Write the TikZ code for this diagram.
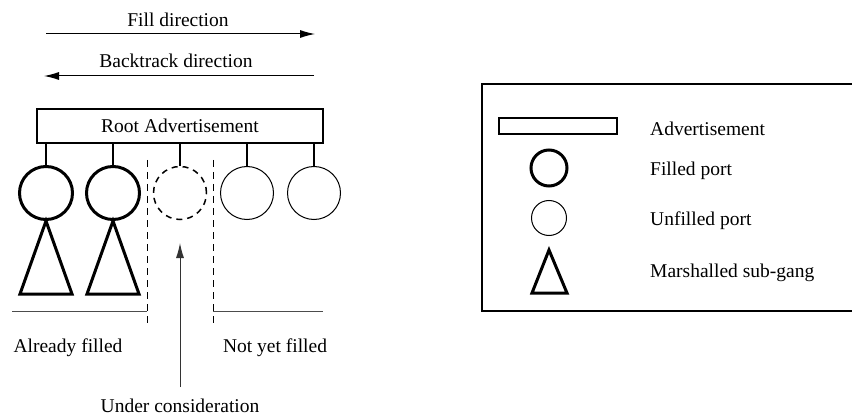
\documentclass[tikz,border=0pt]{standalone}
\usepackage{fontspec}
\setmainfont{Liberation Serif}
\usetikzlibrary{arrows.meta}
\begin{document}
\begin{tikzpicture}[x=1pt,y=-1pt,
  every node/.style={font=\fontsize{19.5}{23}\selectfont, inner sep=0pt},
  lbl/.style={anchor=center},
  port/.style={circle, draw, minimum size=53pt, inner sep=0pt},
  filledport/.style={port, line width=3pt},
  openport/.style={port, line width=1pt},
  curport/.style={port, line width=1.5pt, dash pattern=on 6pt off 5pt},
  subgang/.style={line width=3pt, line join=miter},
  stub/.style={line width=1.5pt},
  divider/.style={line width=1pt, dash pattern=on 7pt off 5pt},
  dirarrow/.style={line width=1pt, -{Latex[length=15pt,width=8pt]}},
  zone/.style={line width=1pt, black!70}
]
\useasboundingbox (0,0) rectangle (852,417);
\clip (0,0) rectangle (852,417);

% direction arrows
\node[lbl] (filltxt) at (178,20) {Fill direction};
\coordinate (fa) at (46,34);
\coordinate (fb) at (315,34);
\draw[dirarrow] (fa) -- (fb);
\node[lbl] (backtxt) at (176,61) {Backtrack direction};
\coordinate (ba) at (314,76);
\coordinate (bb) at (44,76);
\draw[dirarrow] (ba) -- (bb);

% root advertisement
\node[draw, line width=1.5pt, minimum width=286pt, minimum height=34pt] (root) at (180,126) {Root Advertisement};

% ports
\node[filledport] (p1) at (46,193) {};
\node[filledport] (p2) at (113,193) {};
\node[curport] (p3) at (180,193) {};
\node[openport] (p4) at (247,193) {};
\node[openport] (p5) at (314,193) {};
\foreach \p in {p1,p2,p3,p4,p5} \draw[stub] (root.south -| \p) -- (\p.north);

% sub-gangs
\draw[subgang] (p1.south) -- (20,294) -- (72,294) -- cycle;
\draw[subgang] (p2.south) -- (87,294) -- (139,294) -- cycle;

% dividers
\coordinate (d1t) at (147,160);
\coordinate (d1b) at (147,327);
\coordinate (d2t) at (213,160);
\coordinate (d2b) at (213,327);
\draw[divider] (d1t) -- (d1b);
\draw[divider] (d2t) -- (d2b);

% zone lines
\coordinate (zl) at (12,311);
\coordinate (zr) at (323,311);
\draw[zone] (zl) -- (d1b |- zl);
\draw[zone] (d2b |- zr) -- (zr);
\node[lbl] (already) at (68,348) {Already filled};
\node[lbl] (notyet) at (275,348) {Not yet filled};

% under consideration
\node[lbl] (under) at (180,406) {Under consideration};
\coordinate (ua) at (180,387);
\draw[line width=1pt, black!80, -{Latex[length=15pt,width=8pt]}] (ua) -- (p3.south |- 0,243);

% legend
\draw[line width=1.2pt] (880,84) -- (482,84) -- (482,311) -- (880,311);
\node[draw, line width=1.5pt, minimum width=118pt, minimum height=16pt] (ladv) at (558,126) {};
\node[anchor=west] (tadv) at (650,129) {Advertisement};
\node[port, line width=3pt, minimum size=36pt] (lfill) at (549,168) {};
\node[anchor=west] (tfill) at (650,171) {Filled port};
\node[port, line width=1pt, minimum size=35pt] (lopen) at (549,218) {};
\node[anchor=west] (topen) at (650,221) {Unfilled port};
\draw[subgang] (549,250) -- (532,293) -- (567,293) -- cycle;
\node[anchor=west] (tsub) at (650,273) {Marshalled sub-gang};
\end{tikzpicture}
\end{document}
